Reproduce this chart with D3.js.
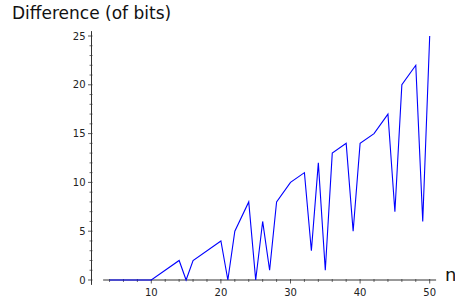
<!DOCTYPE html>
<html><head><meta charset="utf-8">
<script src="https://cdn.jsdelivr.net/npm/d3@7"></script>
<style>html,body{margin:0;padding:0;background:#fff;}svg{display:block;font-family:"DejaVu Sans",sans-serif;}</style>
</head><body>
<svg id="c" width="455" height="302"></svg>
<script>
const nValues = [4,10,14,15,16,20,21,22,24,25,26,27,28,30,32,33,34,35,36,38,39,40,42,44,45,46,48,49,50];
const diffValues = [0,0,2,0,2,4,0,5,8,0,6,1,8,10,11,3,12,1,13,14,5,14,15,17,7,20,22,6,25];
const xTicks = [10,20,30,40,50];
const yTicks = [0,5,10,15,20,25];
const titleText = "Difference (of bits)";
const xLabel = "n";

const svg = d3.select("#c");
const x = d3.scaleLinear().domain([10,50]).range([151.3,429.7]);
const y = d3.scaleLinear().domain([0,25]).range([280,36]);
const xMin = 3.08, xMax = 50.92, yMin = -0.5, yMax = 25.5;
const yAxisX = 91.5;
const axisColor = "#333";

// x axis
const xa = svg.append("g").attr("transform", `translate(0,${y(0)})`);
xa.append("line").attr("x1", x(xMin)).attr("x2", x(xMax)).attr("stroke", axisColor).attr("stroke-width", 1);
const xMinor = d3.range(4, 51, 2).filter(v => !xTicks.includes(v));
xa.selectAll(".xm").data(xMinor).join("line")
  .attr("x1", d => x(d)).attr("x2", d => x(d)).attr("y1", -1).attr("y2", 2)
  .attr("stroke", axisColor).attr("stroke-width", 0.7);
xa.selectAll(".xM").data(xTicks).join("line")
  .attr("x1", d => x(d)).attr("x2", d => x(d)).attr("y1", -1).attr("y2", 3.5)
  .attr("stroke", axisColor).attr("stroke-width", 0.8);
xa.selectAll(".xl").data(xTicks).join("text")
  .attr("x", d => x(d)).attr("y", 16).attr("text-anchor", "middle")
  .attr("font-size", 10).attr("fill", "#222").text(d => d);

// y axis
const ya = svg.append("g").attr("transform", `translate(${yAxisX},0)`);
ya.append("line").attr("y1", y(yMin)).attr("y2", y(yMax)).attr("stroke", axisColor).attr("stroke-width", 1);
const yMinor = d3.range(0, 26, 1).filter(v => !yTicks.includes(v));
ya.selectAll(".ym").data(yMinor).join("line")
  .attr("y1", d => y(d)).attr("y2", d => y(d)).attr("x1", -2).attr("x2", 1)
  .attr("stroke", axisColor).attr("stroke-width", 0.7);
ya.selectAll(".yM").data(yTicks).join("line")
  .attr("y1", d => y(d)).attr("y2", d => y(d)).attr("x1", -3.5).attr("x2", 1)
  .attr("stroke", axisColor).attr("stroke-width", 0.8);
ya.selectAll(".yl").data(yTicks).join("text")
  .attr("x", -6).attr("y", d => y(d) + 3.6).attr("text-anchor", "end")
  .attr("font-size", 10).attr("fill", "#222").text(d => d);

// line
const line = d3.line().x((d,i) => x(nValues[i])).y(d => y(d));
svg.append("path").datum(diffValues).attr("d", line)
  .attr("fill", "none").attr("stroke", "#0000ff").attr("stroke-width", 1.1).attr("stroke-linejoin", "miter");

// labels
svg.append("text").attr("x", 12).attr("y", 19).attr("font-size", 17).attr("fill", "#111").text(titleText);
svg.append("text").attr("x", 445).attr("y", 281).attr("font-size", 18).attr("fill", "#111").text(xLabel);
</script>
</body></html>
